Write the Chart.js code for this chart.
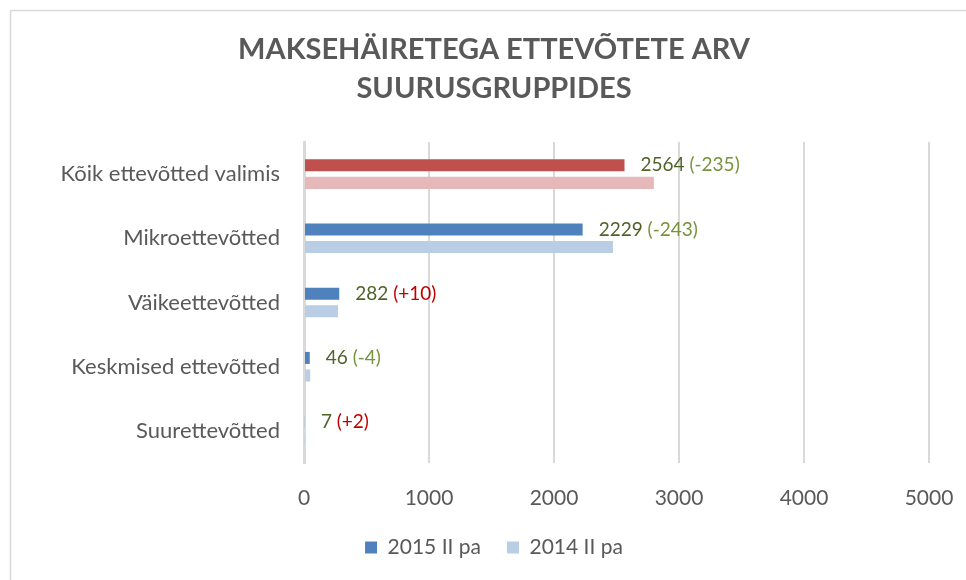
<!DOCTYPE html>
<html>
<head>
<meta charset="utf-8">
<script src="https://cdn.jsdelivr.net/npm/chart.js@4/dist/chart.umd.min.js"></script>
<style>
html,body{margin:0;padding:0;background:#fff;overflow:hidden;}
#wrap{position:relative;width:966px;height:580px;}
</style>
</head>
<body>
<div id="wrap"><canvas id="c" width="966" height="580"></canvas></div>
<script>
const categories = ['Kõik ettevõtted valimis', 'Mikroettevõtted', 'Väikeettevõtted', 'Keskmised ettevõtted', 'Suurettevõtted'];
const seriesNames = ['2015 II pa', '2014 II pa'];
const values2015 = [2564, 2229, 282, 46, 7];
const values2014 = [2799, 2472, 272, 50, 5];
const changes = ['(-235)', '(-243)', '(+10)', '(-4)', '(+2)'];
const xTicks = [0, 1000, 2000, 3000, 4000, 5000];

const dark2015 = ['#C0504D', '#4F81BD', '#4F81BD', '#4F81BD', '#4F81BD'];
const light2014 = ['#E6B9B8', '#B9CDE5', '#B9CDE5', '#B9CDE5', '#B9CDE5'];
const FONT = 'Lato, "Open Sans", sans-serif';
const GRAY = '#595959';

const framePlugin = {
  id: 'frame',
  beforeDraw(chart) {
    const ctx = chart.ctx;
    ctx.save();
    ctx.fillStyle = '#fff';
    ctx.fillRect(0, 0, chart.width, chart.height);
    ctx.strokeStyle = '#D9D9D9';
    ctx.lineWidth = 1.5;
    ctx.strokeRect(10.5, 10.5, chart.width + 20, chart.height + 20);
    ctx.restore();
  }
};

const labelPlugin = {
  id: 'valueLabels',
  afterDatasetsDraw(chart) {
    const ctx = chart.ctx;
    const meta = chart.getDatasetMeta(0);
    ctx.save();
    ctx.font = '19px ' + FONT;
    ctx.textBaseline = 'middle';
    ctx.textAlign = 'left';
    meta.data.forEach((bar, i) => {
      const x = bar.x + 16;
      const y = bar.y;
      const v = String(values2015[i]);
      ctx.fillStyle = '#4F6228';
      ctx.fillText(v, x, y);
      const w = ctx.measureText(v + ' ').width;
      const ch = changes[i];
      ctx.fillStyle = ch.indexOf('+') >= 0 ? '#C00000' : '#77933C';
      ctx.fillText(ch, x + w, y);
    });
    ctx.restore();
  }
};

new Chart(document.getElementById('c'), {
  type: 'bar',
  data: {
    labels: categories,
    datasets: [
      { label: seriesNames[0], data: values2015, backgroundColor: dark2015, categoryPercentage: 0.547, barPercentage: 0.686 },
      { label: seriesNames[1], data: values2014, backgroundColor: light2014, categoryPercentage: 0.547, barPercentage: 0.686 }
    ]
  },
  options: {
    indexAxis: 'y',
    responsive: false,
    animation: false,
    layout: { padding: { left: 22, right: 0, top: 10, bottom: 12 } },
    plugins: {
      title: {
        display: true,
        text: ['MAKSEHÄIRETEGA ETTEVÕTETE ARV', 'SUURUSGRUPPIDES'],
        color: GRAY,
        font: { family: FONT, size: 29, weight: 'bold', lineHeight: 1.345 },
        padding: { top: 20, bottom: 34 }
      },
      legend: {
        position: 'bottom',
        labels: {
          color: GRAY,
          font: { family: FONT, size: 21 },
          boxWidth: 12,
          boxHeight: 12,
          padding: 26,
          generateLabels(chart) {
            return chart.data.datasets.map((ds, i) => ({
              text: ds.label,
              fillStyle: i === 0 ? '#4F81BD' : '#B9CDE5',
              strokeStyle: i === 0 ? '#4F81BD' : '#B9CDE5',
              lineWidth: 0,
              hidden: false,
              datasetIndex: i,
              fontColor: GRAY
            }));
          }
        }
      },
      tooltip: { enabled: false }
    },
    scales: {
      x: {
        min: 0,
        max: 5000,
        afterBuildTicks(s) { s.ticks = xTicks.map(v => ({ value: v })); },
        afterFit(s) { s.paddingRight = 37; s.height = 48; },
        grid: { color: '#D9D9D9', lineWidth: 2, drawTicks: false },
        border: { display: false },
        ticks: { color: GRAY, font: { family: FONT, size: 21 }, padding: 23, callback: (v) => String(v) }
      },
      y: {
        afterFit(s) { s.width = 282; },
        grid: { display: false, drawTicks: false },
        border: { display: true, color: '#D9D9D9', width: 3 },
        ticks: { color: GRAY, font: { family: FONT, size: 22 }, padding: 24 }
      }
    }
  },
  plugins: [framePlugin, labelPlugin]
});
</script>
</body>
</html>
